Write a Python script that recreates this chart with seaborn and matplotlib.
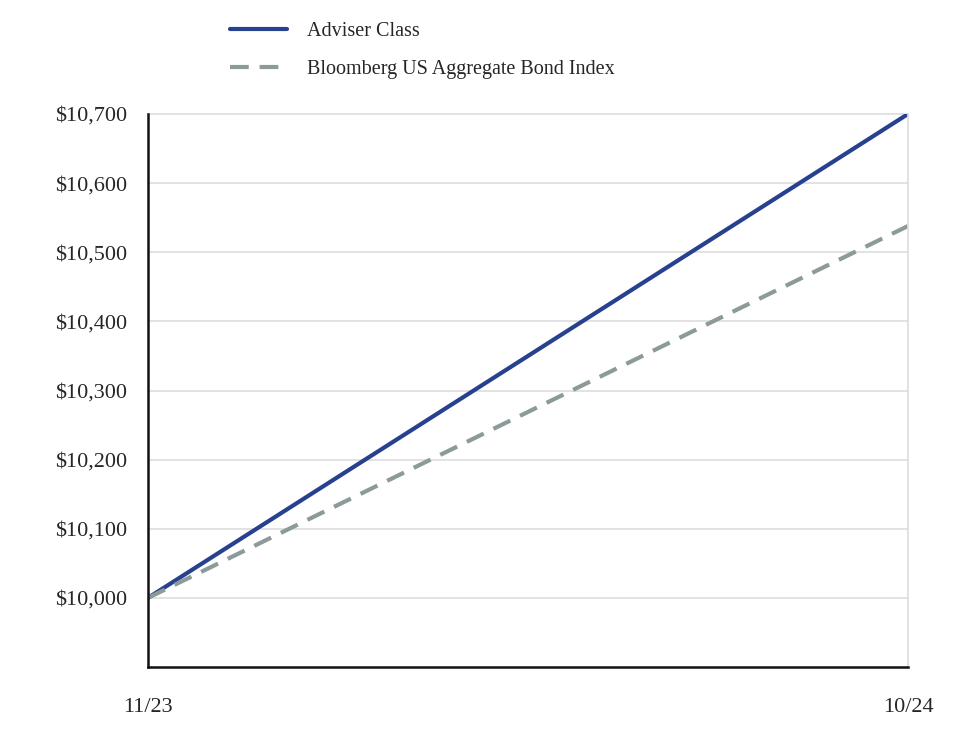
import matplotlib
matplotlib.use("Agg")
import matplotlib.pyplot as plt
import seaborn as sns
import pandas as pd
from matplotlib.lines import Line2D

dates = ["11/23", "10/24"]
adviser = [10000, 10700]
index_vals = [10000, 10538]
series_names = ["Adviser Class", "Bloomberg US Aggregate Bond Index"]
yticks = [10000, 10100, 10200, 10300, 10400, 10500, 10600, 10700]

sns.set_theme(style="white")
plt.rcParams['font.family'] = ['Liberation Serif', 'DejaVu Serif']

df = pd.DataFrame({
    "x": [0, 1, 0, 1],
    "value": adviser + index_vals,
    "series": [series_names[0]] * 2 + [series_names[1]] * 2,
})

fig = plt.figure(figsize=(9.64, 7.40), dpi=100)
ax = fig.add_axes([148/964, 1-667/740, (908-148)/964, (667-114)/740])

blue = "#27418E"
gray = "#8C9A9A"
dash = (4.5, 2.6)
palette = {series_names[0]: blue, series_names[1]: gray}
sns.lineplot(data=df, x="x", y="value", hue="series", style="series",
             dashes={series_names[0]: "", series_names[1]: dash},
             palette=palette, linewidth=3, ax=ax, legend=False)

ax.set_xlim(0, 1)
ax.set_ylim(9900, 10700)
ax.set_yticks(yticks)
ax.set_yticklabels([f"${v:,}" for v in yticks], fontsize=16)
ax.set_xticks([0, 1])
ax.set_xticklabels(dates, fontsize=16)
ax.tick_params(axis="x", pad=22, length=0)
ax.tick_params(axis="y", pad=15, length=0)
ax.set_xlabel("")
ax.set_ylabel("")
ax.grid(axis="y", color="#DDDDDD", linewidth=1.2)
for gl in ax.yaxis.get_gridlines():
    gl.set_clip_on(False)
ax.set_axisbelow(True)
for s in ["left", "bottom"]:
    ax.spines[s].set_color("#111111")
    ax.spines[s].set_linewidth(1.8)
ax.spines["right"].set_color("#DDDDDD")
ax.spines["right"].set_linewidth(1.2)
ax.spines["top"].set_visible(False)

handles = [Line2D([0], [0], color=blue, lw=3),
           Line2D([0], [0], color=gray, lw=3, dashes=dash)]
fig.legend(handles, series_names, loc="upper left", bbox_to_anchor=(212/964, 1-4/740),
           frameon=False, fontsize=14.5, handlelength=2.8, handletextpad=1.0,
           labelspacing=0.95)

fig.savefig("out.png", dpi=100)
